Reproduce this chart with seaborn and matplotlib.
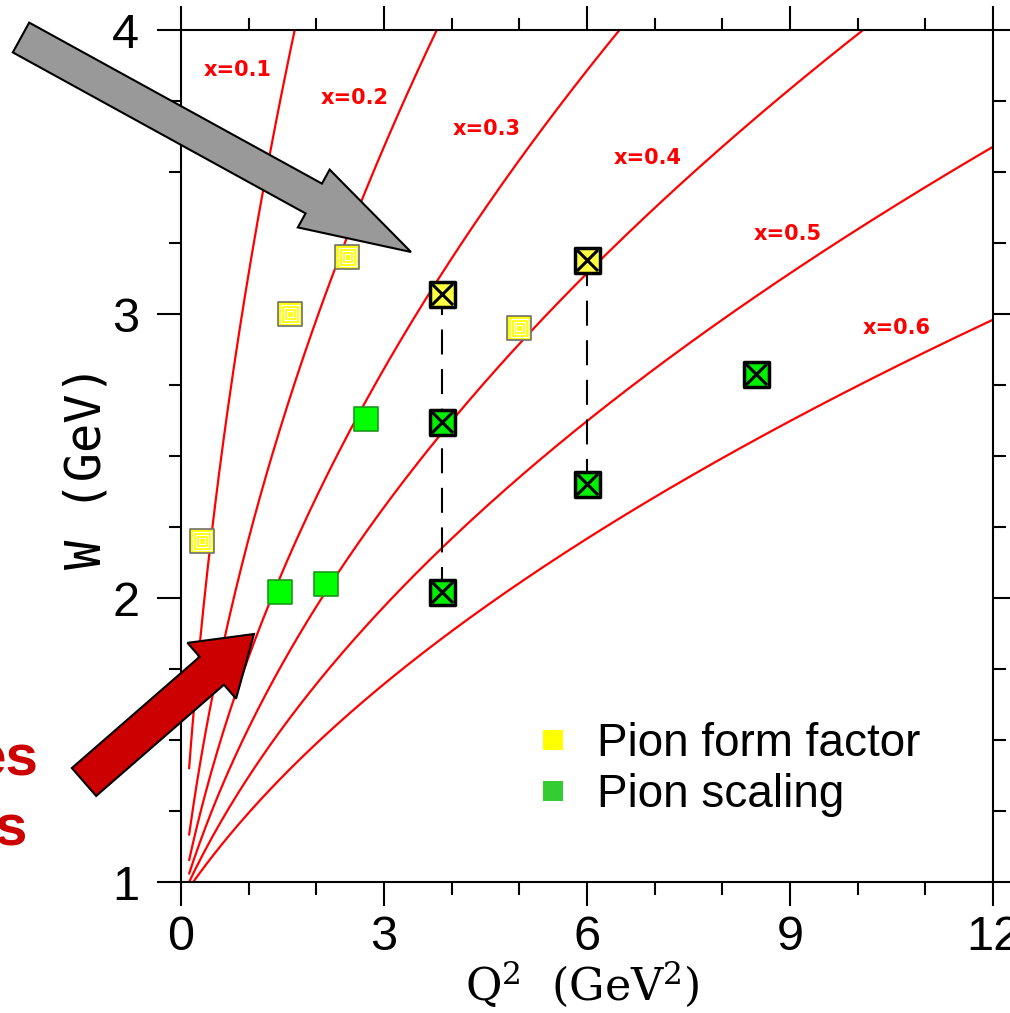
import numpy as np
import pandas as pd
import seaborn as sns
import matplotlib.pyplot as plt
from matplotlib.patches import Polygon
from matplotlib.lines import Line2D

# constant-x lines, W^2 = M^2 + Q^2 (1/x - 1)
x_bj = [0.1, 0.2, 0.3, 0.4, 0.5, 0.6]
m_p = 0.938
q2_min = 0.12
q2_max = 12.0
label_q2 = [0.84, 2.56, 4.52, 6.89, 8.96, 10.58]
label_w = [3.86, 3.76, 3.65, 3.55, 3.28, 2.95]

# existing points (plain squares)
ff_q2 = [0.31, 1.61, 2.46, 5.0]
ff_w = [2.20, 3.00, 3.20, 2.95]
sc_q2 = [1.46, 2.14, 2.73]
sc_w = [2.02, 2.05, 2.63]

# proposed points (crossed squares)
new_ff_q2 = [3.86, 6.0]
new_ff_w = [3.07, 3.19]
new_sc_q2 = [3.86, 3.86, 6.0, 8.5]
new_sc_w = [2.62, 2.02, 2.40, 2.79]

legend_labels = ['Pion form factor', 'Pion scaling']

W_PX, H_PX = 1010, 1013

sns.set_theme(style='ticks')
plt.rcParams['font.family'] = ['Liberation Sans', 'DejaVu Sans']
plt.rcParams['mathtext.fontset'] = 'dejavuserif'
plt.rcParams['text.color'] = 'black'
plt.rcParams['axes.labelcolor'] = 'black'
plt.rcParams['xtick.color'] = 'black'
plt.rcParams['ytick.color'] = 'black'

fig = plt.figure(figsize=(W_PX / 100, H_PX / 100), dpi=100)
ax = fig.add_axes([181 / W_PX, 1 - 882 / H_PX, 812 / W_PX, 852 / H_PX])

# kinematic curves
q2 = np.linspace(q2_min, q2_max, 400)
rows = []
for xb in x_bj:
    w = np.sqrt(m_p ** 2 + q2 * (1 / xb - 1))
    rows.append(pd.DataFrame({'Q2': q2, 'W': w, 'x': xb}))
curves = pd.concat(rows)
sns.lineplot(data=curves, x='Q2', y='W', hue='x', palette=['red'] * len(x_bj),
             estimator=None, sort=False, legend=False, lw=1.6, ax=ax)

for xb, lx, ly in zip(x_bj, label_q2, label_w):
    ax.text(lx, ly, f'x={xb}', color='red', fontsize=15, fontweight='bold',
            ha='center', va='center', family=['DejaVu Sans'])

# dashed connectors between proposed settings at same Q2
all_new_q2 = np.array(new_ff_q2 + new_sc_q2)
all_new_w = np.array(new_ff_w + new_sc_w)
for q in sorted(set(new_ff_q2)):
    ws = all_new_w[all_new_q2 == q]
    ax.plot([q, q], [ws.min(), ws.max()], color='black', lw=1.5,
            dashes=(12, 7), zorder=3)

# plain existing points
sns.scatterplot(x=ff_q2, y=ff_w, marker='s', s=280, color='#ffff00',
                edgecolor='#707070', linewidth=1.2, ax=ax, zorder=4)
for s in [160, 70, 18]:
    ax.scatter(ff_q2, ff_w, marker='s', s=s, facecolor='none',
               edgecolor='white', linewidth=0.9, zorder=5)
sns.scatterplot(x=sc_q2, y=sc_w, marker='s', s=282, color='#00ff00',
                edgecolor='#1a9a1a', linewidth=1.2, ax=ax, zorder=4)

# crossed proposed points
for xs, ys, col in [(new_ff_q2, new_ff_w, '#ffff44'), (new_sc_q2, new_sc_w, '#00ee00')]:
    sns.scatterplot(x=xs, y=ys, marker='s', s=324, color=col,
                    edgecolor='black', linewidth=2.5, ax=ax, zorder=6)
    ax.scatter(xs, ys, marker='x', s=230, color='black', linewidth=2.2, zorder=7)

ax.set_xlim(0, 12)
ax.set_ylim(1, 4)
ax.set_xticks([0, 3, 6, 9, 12])
ax.set_yticks([1, 2, 3, 4])
ax.set_xticks(np.arange(0, 13, 1), minor=True)
ax.set_yticks(np.arange(1, 4.01, 0.25), minor=True)
ax.tick_params(which='both', direction='out', top=True, right=True,
               width=1.5, color='black', labelcolor='black')
ax.tick_params(which='major', length=17, labelsize=35)
ax.tick_params(which='minor', length=9)
ax.tick_params(axis='x', pad=7)
ax.tick_params(axis='y', pad=13)
for sp in ax.spines.values():
    sp.set_linewidth(1.5)
    sp.set_color('black')

ax.set_xlabel(r'Q$^2$  (GeV$^2$)', family=['DejaVu Serif'], fontsize=32, color='black')
ax.set_ylabel('W (GeV)', family=['DejaVu Sans Mono'], fontsize=35, color='black')
ax.xaxis.set_label_coords(0.494, -0.091)
ax.yaxis.set_label_coords(-0.087, 0.487)

handles = [Line2D([], [], marker='s', ls='none', color='#ffff00', markersize=13.7, markeredgewidth=0),
           Line2D([], [], marker='s', ls='none', color='#33cc33', markersize=13.7, markeredgewidth=0)]
leg = ax.legend(handles, legend_labels, loc='upper left', bbox_to_anchor=(0.43, 0.188),
                frameon=False, fontsize=33, borderpad=0, borderaxespad=0,
                handlelength=1.0, handletextpad=0.46, labelspacing=0.15)
for t in leg.get_texts():
    t.set_color('black')


def block_arrow(tail, tip, shaft_w, head_w, head_len, color):
    tail = np.array(tail, float)
    tip = np.array(tip, float)
    d = tip - tail
    d /= np.hypot(*d)
    n = np.array([-d[1], d[0]])
    base = tip - d * head_len
    pts = [tail + n * shaft_w / 2, base + n * shaft_w / 2, base + n * head_w / 2, tip,
           base - n * head_w / 2, base - n * shaft_w / 2, tail - n * shaft_w / 2]
    pts = [(p[0] / W_PX, 1 - p[1] / H_PX) for p in pts]
    fig.add_artist(Polygon(pts, closed=True, facecolor=color, edgecolor='black',
                           lw=1.5, transform=fig.transFigure, zorder=10))


block_arrow((21, 37.5), (411, 252), 34, 66, 111, '#999999')
block_arrow((84, 782), (254, 634), 37, 74, 56, '#cc0000')

fig.text(39 / W_PX, 1 - 775 / H_PX, 'es', color='#cc0000', fontsize=42,
         fontweight='bold', ha='right', va='baseline')
fig.text(27 / W_PX, 1 - 845 / H_PX, 's', color='#cc0000', fontsize=42,
         fontweight='bold', ha='right', va='baseline')

fig.savefig('out.png', dpi=100)
